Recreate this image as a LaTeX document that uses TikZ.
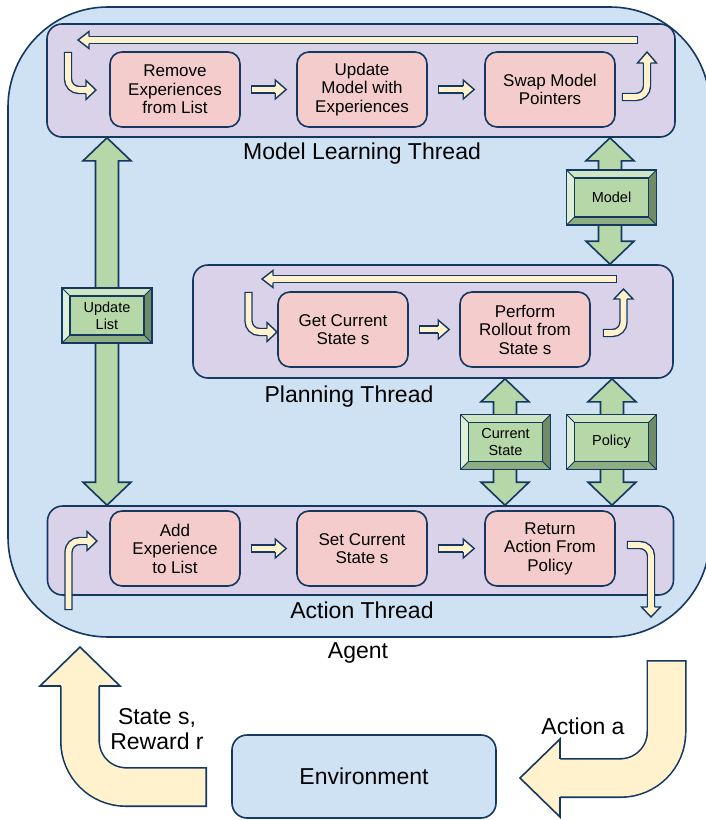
\documentclass[tikz,border=0pt]{standalone}
\usepackage{fontspec}
\setmainfont{Liberation Sans}
\usetikzlibrary{calc}
\definecolor{navyline}{RGB}{20,56,96}
\definecolor{agentfill}{HTML}{CFE2F3}
\definecolor{threadfill}{HTML}{D9D2E9}
\definecolor{taskfill}{HTML}{F4CCCC}
\definecolor{flowfill}{HTML}{FFF2CC}
\definecolor{linkfill}{HTML}{B6D7A8}
\definecolor{bevelTop}{HTML}{CFE6C4}
\definecolor{bevelLeft}{HTML}{DEEFD8}
\definecolor{bevelRight}{HTML}{6F8C66}
\definecolor{bevelBottom}{HTML}{8DAE80}
\newcommand\colorOutline{navyline}
\newcommand\bevelDepth{8}
\tikzset{
	agentBox/.style={draw=\colorOutline, line width=1.6pt, fill=agentfill, rounded corners=100pt},
	threadBox/.style={draw=\colorOutline, line width=1.6pt, fill=threadfill, rounded corners=15pt, minimum height=113pt},
	taskBox/.style={draw=\colorOutline, line width=1.6pt, fill=taskfill, rounded corners=12pt, minimum width=130pt, minimum height=75pt, align=center, font=\fontsize{17}{18.5}\selectfont},
	envBox/.style={draw=\colorOutline, line width=1.6pt, fill=agentfill, rounded corners=15pt, minimum width=264pt, minimum height=83pt, font=\fontsize{23}{27}\selectfont},
	threadLabel/.style={align=center, font=\fontsize{23}{27}\selectfont},
	flowShaft/.style={draw=\colorOutline, line width=1.4pt, double=flowfill, double distance=5.6pt, line cap=rect, rounded corners=11pt},
	bigShaft/.style={draw=\colorOutline, line width=1.6pt, double=flowfill, double distance=36.8pt, line cap=rect, rounded corners=46pt},
	flowTip/.style={fill=flowfill, draw=\colorOutline, line width=1.4pt, line join=miter},
	bigTip/.style={fill=flowfill, draw=\colorOutline, line width=1.6pt, line join=miter},
	linkArrow/.style={fill=linkfill, draw=\colorOutline, line width=1.6pt, line join=miter},
	bevelTag/.style={draw=\colorOutline, line width=1.6pt, fill=linkfill, minimum width=90pt, minimum height=55pt, inner sep=1pt, align=center, font=\fontsize{14.5}{17}\selectfont,
		path picture={
			\fill[bevelTop] (path picture bounding box.north west) -- (path picture bounding box.north east) -- ([shift={(-\bevelDepth,\bevelDepth)}]path picture bounding box.north east) -- ([shift={(\bevelDepth,\bevelDepth)}]path picture bounding box.north west) -- cycle;
			\fill[bevelBottom] (path picture bounding box.south west) -- (path picture bounding box.south east) -- ([shift={(-\bevelDepth,-\bevelDepth)}]path picture bounding box.south east) -- ([shift={(\bevelDepth,-\bevelDepth)}]path picture bounding box.south west) -- cycle;
			\fill[bevelLeft] (path picture bounding box.north west) -- (path picture bounding box.south west) -- ([shift={(\bevelDepth,-\bevelDepth)}]path picture bounding box.south west) -- ([shift={(\bevelDepth,\bevelDepth)}]path picture bounding box.north west) -- cycle;
			\fill[bevelRight] (path picture bounding box.north east) -- (path picture bounding box.south east) -- ([shift={(-\bevelDepth,-\bevelDepth)}]path picture bounding box.south east) -- ([shift={(-\bevelDepth,\bevelDepth)}]path picture bounding box.north east) -- cycle;
			\draw[color=\colorOutline, line width=1pt] (path picture bounding box.north west) -- ++(\bevelDepth,\bevelDepth) (path picture bounding box.north east) -- ++(-\bevelDepth,\bevelDepth) (path picture bounding box.south west) -- ++(\bevelDepth,-\bevelDepth) (path picture bounding box.south east) -- ++(-\bevelDepth,-\bevelDepth);
			\draw[color=\colorOutline, line width=1.4pt] ([shift={(\bevelDepth,\bevelDepth)}]path picture bounding box.north west) rectangle ([shift={(-\bevelDepth,-\bevelDepth)}]path picture bounding box.south east);
		}}
}
\newcommand\drawTip[6][flowTip]{
	\filldraw[#1, shift={#2}, rotate=#3] (0,#4) -- (0,#5) -- (#6,0) -- (0,-#5) -- (0,-#4);
}
\newcommand\stepArrow[2]{
	\draw[flowShaft] ($(#1.east)+(14.2,0)$) -- ($(#2.west)+(-20,0)$);
	\drawTip{($(#2.west)+(-21,0)$)}{0}{3.5}{9.5}{11}
}
\newcommand\drawLink[2]{
	\draw[linkArrow] (#1) -- ++(24,23) -- ++(-12.5,0) -- ($(#2)+(11.5,-23)$) -- ++(12.5,0) -- (#2) -- ++(-24,-23) -- ++(12.5,0) -- ($(#1)+(-11.5,23)$) -- ++(-12.5,0) -- cycle;
}

\begin{document}
\begin{tikzpicture}[x=1pt, y=-1pt]
	\useasboundingbox (0,0) rectangle (706,820);
	\node[agentBox, minimum width=702pt, minimum height=630pt] (agent) at (359,322) {};
	\node[threadLabel, anchor=base] (agentLabel) at (358,658) {Agent};
	
	\node[threadBox, minimum width=628pt] (mlt) at (361,80.5) {};
	\node[threadBox, minimum width=480pt] (plt) at (433,321.5) {};
	\node[threadBox, minimum width=626pt, minimum height=89pt] (act) at (360.5,550.5) {};
	\node[threadLabel, anchor=base] (mltLabel) at (362,159) {Model Learning Thread};
	\node[threadLabel, anchor=base] (pltLabel) at (349,402) {Planning Thread};
	\node[threadLabel, anchor=base] (actLabel) at (362,618) {Action Thread};
	
	\node[taskBox] (remove) at (175,89.5) {Remove\\Experiences\\from List};
	\node[taskBox] (update) at (362,89.5) {Update\\Model with\\Experiences};
	\node[taskBox] (swap) at (550,89.5) {Swap Model\\Pointers};
	\node[taskBox] (getState) at (343,329.5) {Get Current\\State s};
	\node[taskBox] (rollout) at (525,329.5) {Perform\\Rollout from\\State s};
	\node[taskBox] (addExp) at (175,548.5) {Add\\Experience\\to List};
	\node[taskBox] (setState) at (362,548.5) {Set Current\\State s};
	\node[taskBox] (retAction) at (550,548.5) {Return\\Action From\\Policy};
	
	\foreach \a/\b in {remove/update, update/swap, getState/rollout, addExp/setState, setState/retAction}{
		\stepArrow{\a}{\b}
	}
	
	\draw[flowShaft] (634,40) -- (90,40);
	\drawTip{(89,40)}{180}{3.5}{8.5}{11}
	\draw[flowShaft] (68,56) |- (85,90);
	\drawTip{(86,90)}{0}{3.5}{9.5}{10}
	\draw[flowShaft] (626,97) -| (647,64);
	\drawTip{(647,63)}{90}{3.5}{9.5}{11}
	
	\draw[flowShaft] (613,279) -- (274,279);
	\drawTip{(273,279)}{180}{3.5}{8.5}{11}
	\draw[flowShaft] (248.5,296) |- (266,332);
	\drawTip{(267,332)}{0}{3.5}{9.5}{10}
	\draw[flowShaft] (607,333) -| (623.5,300);
	\drawTip{(623.5,299)}{90}{3.5}{9.5}{10}
	
	\draw[flowShaft] (68.5,606) |- (86,541);
	\drawTip{(87,541)}{0}{3.5}{9.5}{10}
	\draw[flowShaft] (631,545) -| (651,606);
	\drawTip{(651,607)}{-90}{3.5}{9.5}{10}
	
	\coordinate (listTop) at (mlt.south -| 107,0);
	\coordinate (listBot) at (act.north -| 107,0);
	\coordinate (modelTop) at (mlt.south -| 610,0);
	\coordinate (modelBot) at (plt.north -| 610,0);
	\coordinate (stateTop) at (plt.south -| 505,0);
	\coordinate (stateBot) at (act.north -| 505,0);
	\coordinate (policyTop) at (plt.south -| 612,0);
	\coordinate (policyBot) at (act.north -| 612,0);
	\foreach \linkA/\linkB in {listTop/listBot, modelTop/modelBot, stateTop/stateBot, policyTop/policyBot}{
		\drawLink{\linkA}{\linkB}
	}
	
	\node[bevelTag] (listTag) at (107,315.5) {Update\\List};
	\node[bevelTag] (modelTag) at (611.5,197.5) {Model};
	\node[bevelTag] (stateTag) at (505.5,442) {Current\\State};
	\node[bevelTag] (policyTag) at (611.5,442) {Policy};
	
	\node[envBox] (env) at (364,776.5) {Environment};
	\draw[bigShaft] (187,787) -| (80,689);
	\drawTip[bigTip]{(80,686)}{90}{19.2}{40}{39}
	\draw[bigShaft] (666.5,680) |- (563,778);
	\drawTip[bigTip]{(560,778)}{180}{19.2}{39}{40}
	\node[threadLabel, font=\fontsize{23}{25}\selectfont] (obsLabel) at (157,729) {State s,\\Reward r};
	\node[threadLabel, anchor=base] (actionLabel) at (583,734) {Action a};
\end{tikzpicture}
\end{document}
